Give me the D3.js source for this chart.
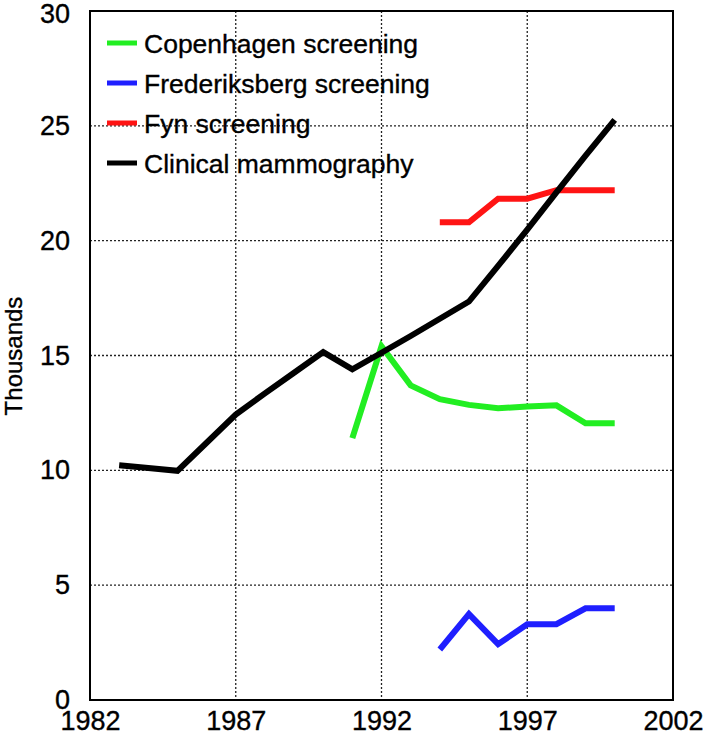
<!DOCTYPE html>
<html><head><meta charset="utf-8">
<script src="https://cdn.jsdelivr.net/npm/d3@7"></script>
<style>body{margin:0;background:#fff}svg{display:block}text{font-family:"Liberation Sans",Arial,sans-serif;stroke:#000;stroke-width:0.35px}</style>
</head><body>
<svg id="c" width="703" height="738"></svg>
<script>
const seriesNames = ["Copenhagen screening","Frederiksberg screening","Fyn screening","Clinical mammography"];
const seriesColors = ["#22ee22","#1f1fff","#ff1414","#000000"];
const copenhagenYears = [1991,1992,1993,1994,1995,1996,1997,1998,1999,2000];
const copenhagenValues = [11.4,15.4,13.7,13.1,12.85,12.7,12.78,12.83,12.05,12.05];
const frederiksbergYears = [1994,1995,1996,1997,1998,1999,2000];
const frederiksbergValues = [2.2,3.74,2.43,3.3,3.3,3.99,3.99];
const fynYears = [1994,1995,1996,1997,1998,1999,2000];
const fynValues = [20.8,20.8,21.83,21.83,22.2,22.2,22.2];
const clinicalYears = [1983,1984,1985,1986,1987,1988,1989,1990,1991,1992,1993,1994,1995,1996,1997,1998,1999,2000];
const clinicalValues = [10.22,10.1,9.98,11.2,12.43,13.35,14.25,15.15,14.4,15.12,15.85,16.6,17.35,18.9,20.48,22.1,23.7,25.26];
const xTicks = [1982,1987,1992,1997,2002];
const yTicks = [0,5,10,15,20,25,30];
const yLabel = "Thousands";

const svg = d3.select("#c");
const L=90,R=673,T=11,B=700;
const x = d3.scaleLinear().domain([1982,2002]).range([L,R]);
const y = d3.scaleLinear().domain([0,30]).range([B,T]);

// grid
const g = svg.append("g");
g.selectAll(".gy").data(yTicks.filter(d=>d>0&&d<30)).join("line")
 .attr("x1",L).attr("x2",R).attr("y1",d=>y(d)).attr("y2",d=>y(d))
 .attr("stroke","#222").attr("stroke-width",1.3).attr("stroke-dasharray","2,2");
g.selectAll(".gx").data(xTicks.filter(d=>d>1982&&d<2002)).join("line")
 .attr("y1",T).attr("y2",B).attr("x1",d=>x(d)).attr("x2",d=>x(d))
 .attr("stroke","#222").attr("stroke-width",1.3).attr("stroke-dasharray","2,2");

// axes labels
const yAxis = d3.axisLeft(y).tickValues(yTicks).tickSize(0).tickPadding(20);
const ya = svg.append("g").attr("transform",`translate(${L},0)`).call(yAxis);
ya.select(".domain").remove();
ya.selectAll("text").attr("font-size",27).attr("fill","#000").attr("font-family","Liberation Sans, Arial, sans-serif");
ya.selectAll(".tick").filter(d=>d===30).select("text").attr("dy","0.42em");
const xAxis = d3.axisBottom(x).tickValues(xTicks).tickFormat(d3.format("d")).tickSize(0).tickPadding(11);
const xa = svg.append("g").attr("transform",`translate(0,${B})`).call(xAxis);
xa.select(".domain").remove();
xa.selectAll("text").attr("font-size",27).attr("fill","#000").attr("font-family","Liberation Sans, Arial, sans-serif");

svg.append("text").attr("transform","translate(22,356) rotate(-90)")
 .attr("text-anchor","middle").attr("font-size",24).text(yLabel);

// lines
const data = [
 {years:copenhagenYears, values:copenhagenValues},
 {years:frederiksbergYears, values:frederiksbergValues},
 {years:fynYears, values:fynValues},
 {years:clinicalYears, values:clinicalValues}
];
const line = d3.line().x(d=>x(d[0])).y(d=>y(d[1]));
data.forEach((s,i)=>{
  svg.append("path").datum(s.years.map((yr,j)=>[yr,s.values[j]]))
   .attr("d",line).attr("fill","none").attr("stroke",seriesColors[i])
   .attr("stroke-width",6).attr("stroke-linejoin","miter");
});

// border
svg.append("rect").attr("x",L).attr("y",T).attr("width",R-L).attr("height",B-T)
 .attr("fill","none").attr("stroke","#000").attr("stroke-width",2);

// legend
const lg = svg.append("g");
seriesNames.forEach((n,i)=>{
  const yy = 43 + i*40;
  lg.append("line").attr("x1",107).attr("x2",137).attr("y1",yy).attr("y2",yy)
    .attr("stroke",seriesColors[i]).attr("stroke-width",5);
  lg.append("text").attr("x",144).attr("y",yy+10).attr("font-size",26.5).text(n);
});
</script>
</body></html>
